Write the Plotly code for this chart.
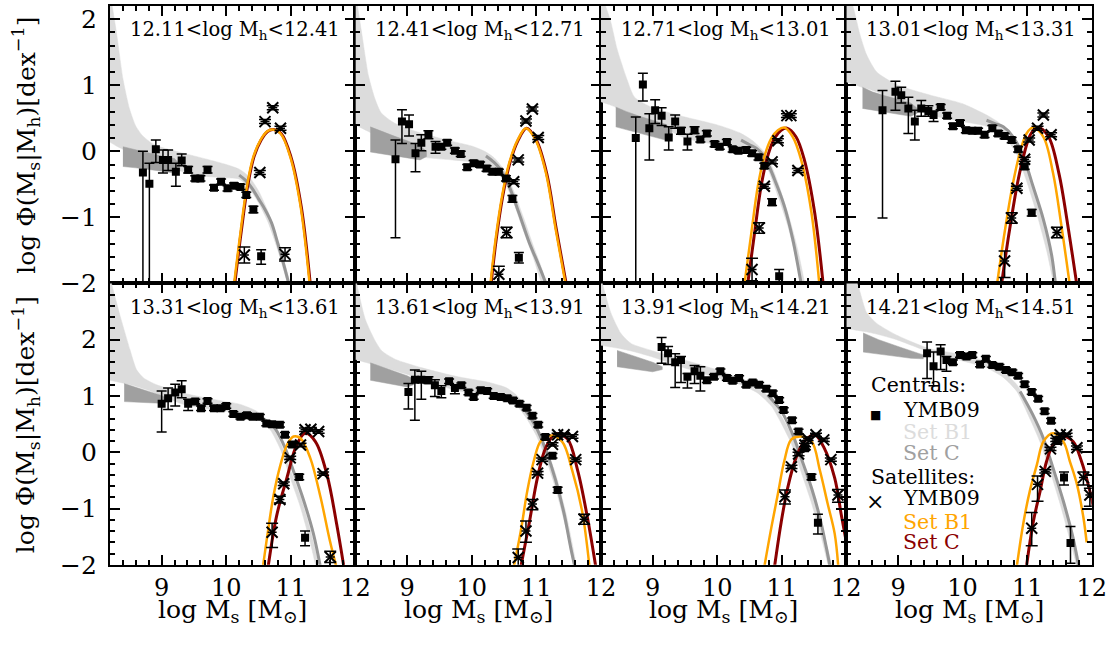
import plotly.graph_objects as go

# ---------------- data ----------------
titles = ["12.11&lt;log M<sub>h</sub>&lt;12.41", "12.41&lt;log M<sub>h</sub>&lt;12.71",
          "12.71&lt;log M<sub>h</sub>&lt;13.01", "13.01&lt;log M<sub>h</sub>&lt;13.31",
          "13.31&lt;log M<sub>h</sub>&lt;13.61", "13.61&lt;log M<sub>h</sub>&lt;13.91",
          "13.91&lt;log M<sub>h</sub>&lt;14.21", "14.21&lt;log M<sub>h</sub>&lt;14.51"]
x_ticks = [9, 10, 11, 12]
y_ticks = [-2, -1, 0, 1, 2]

# YMB09 centrals: (log Ms, log Phi, err_up, err_down)
cen1 = [(8.71,-0.32,0.32,2.0),(8.81,-0.49,0.31,2.0),(8.91,0.03,0.14,0.2),(9.02,-0.13,0.15,0.2),
        (9.10,-0.13,0.15,0.16),(9.22,-0.31,0.13,0.22),(9.31,-0.14,0.1,0.08),(9.41,-0.28,0.05,0.05),
        (9.52,-0.41,0.04,0.04),(9.60,-0.41,0.04,0.04),(9.71,-0.28,0.05,0.05),(9.81,-0.55,0.04,0.04),
        (9.92,-0.46,0.04,0.04),(10.02,-0.56,0.04,0.04),(10.12,-0.52,0.04,0.04),(10.22,-0.54,0.04,0.04),
        (10.31,-0.66,0.04,0.04),(10.42,-0.88,0.05,0.05),(10.54,-1.59,0.1,0.12)]
cen2 = [(8.82,-0.12,0.29,1.19),(8.92,0.45,0.18,0.33),(9.03,0.41,0.14,0.18),(9.13,-0.03,0.15,0.28),
        (9.22,0.13,0.12,0.12),(9.33,0.25,0.06,0.06),(9.44,0.07,0.08,0.1),(9.53,0.07,0.04,0.04),
        (9.62,0.13,0.04,0.04),(9.74,0.01,0.04,0.04),(9.83,-0.04,0.04,0.04),(9.93,-0.24,0.04,0.04),
        (10.03,-0.18,0.04,0.04),(10.13,-0.20,0.04,0.04),(10.23,-0.26,0.04,0.04),(10.32,-0.31,0.04,0.04),
        (10.42,-0.31,0.04,0.04),(10.53,-0.41,0.04,0.04),(10.63,-0.72,0.05,0.05),(10.73,-1.61,0.08,0.08)]
cen3 = [(8.74,0.20,0.32,2.3),(8.85,1.01,0.17,0.25),(8.95,0.35,0.22,0.48),(9.04,0.62,0.16,0.2),
        (9.14,0.54,0.12,0.15),(9.25,0.21,0.16,0.19),(9.35,0.45,0.1,0.1),(9.44,0.31,0.05,0.05),
        (9.54,0.15,0.11,0.13),(9.65,0.32,0.05,0.05),(9.74,0.18,0.04,0.04),(9.84,0.27,0.04,0.04),
        (9.96,0.11,0.04,0.04),(10.04,0.07,0.04,0.04),(10.15,0.14,0.04,0.04),(10.24,0.03,0.04,0.04),
        (10.33,0.01,0.04,0.04),(10.45,0.02,0.04,0.04),(10.54,-0.03,0.04,0.04),(10.64,-0.09,0.04,0.04),
        (10.73,-0.22,0.04,0.04),(10.85,-0.77,0.05,0.05),(10.96,-1.89,0.1,0.1)]
cen4 = [(8.76,0.62,0.3,1.63),(8.96,0.90,0.16,0.28),(9.05,0.85,0.12,0.12),(9.16,0.65,0.17,0.38),
        (9.26,0.45,0.17,0.28),(9.36,0.65,0.12,0.12),(9.47,0.61,0.08,0.08),(9.55,0.55,0.06,0.1),
        (9.66,0.67,0.04,0.04),(9.76,0.54,0.04,0.04),(9.85,0.38,0.04,0.04),(9.96,0.43,0.04,0.04),
        (10.05,0.32,0.04,0.04),(10.15,0.31,0.04,0.04),(10.24,0.31,0.04,0.04),(10.34,0.25,0.04,0.04),
        (10.46,0.35,0.04,0.04),(10.55,0.27,0.04,0.04),(10.65,0.23,0.04,0.04),(10.76,0.17,0.04,0.04),
        (10.86,0.03,0.04,0.04),(10.96,-0.23,0.04,0.04),(11.07,-0.93,0.05,0.05)]
cen5 = [(9.00,0.86,0.23,0.5),(9.10,0.96,0.18,0.2),(9.21,1.06,0.15,0.24),(9.31,1.12,0.15,0.15),
        (9.41,0.86,0.08,0.12),(9.52,0.90,0.04,0.04),(9.61,0.78,0.04,0.04),(9.71,0.91,0.04,0.04),
        (9.81,0.78,0.04,0.04),(9.91,0.78,0.04,0.04),(10.00,0.82,0.04,0.04),(10.11,0.68,0.04,0.04),
        (10.22,0.63,0.04,0.04),(10.32,0.66,0.04,0.04),(10.41,0.63,0.04,0.04),(10.52,0.63,0.04,0.04),
        (10.62,0.51,0.04,0.04),(10.71,0.50,0.04,0.04),(10.83,0.49,0.04,0.04),(10.91,0.31,0.04,0.04),
        (11.02,0.14,0.04,0.04),(11.13,-0.44,0.05,0.05),(11.22,-1.52,0.12,0.14)]
cen6 = [(9.02,1.07,0.15,0.3),(9.12,1.29,0.17,0.72),(9.22,1.29,0.15,0.35),(9.33,1.28,0.06,0.06),
        (9.43,1.19,0.1,0.2),(9.53,1.09,0.09,0.12),(9.65,1.26,0.04,0.04),(9.74,1.14,0.05,0.1),
        (9.84,1.19,0.04,0.04),(9.95,1.06,0.04,0.04),(10.03,0.98,0.04,0.04),(10.14,1.10,0.04,0.04),
        (10.24,1.09,0.04,0.04),(10.34,1.00,0.04,0.04),(10.45,0.98,0.04,0.04),(10.55,0.96,0.04,0.04),
        (10.64,0.92,0.04,0.04),(10.74,0.86,0.04,0.04),(10.85,0.79,0.04,0.04),(10.94,0.65,0.04,0.04),
        (11.03,0.49,0.04,0.04),(11.14,0.27,0.04,0.04),(11.25,-0.06,0.04,0.04),(11.33,-0.67,0.05,0.05)]
cen7 = [(9.14,1.87,0.17,0.29),(9.24,1.76,0.12,0.2),(9.35,1.60,0.15,0.45),(9.44,1.64,0.06,0.4),
        (9.54,1.34,0.06,0.2),(9.65,1.44,0.1,0.22),(9.74,1.36,0.16,0.27),(9.84,1.28,0.04,0.04),
        (9.95,1.34,0.04,0.04),(10.05,1.44,0.04,0.04),(10.15,1.32,0.04,0.04),(10.24,1.27,0.04,0.04),
        (10.34,1.32,0.04,0.04),(10.45,1.20,0.04,0.04),(10.55,1.24,0.04,0.04),(10.65,1.20,0.04,0.04),
        (10.76,1.13,0.04,0.04),(10.86,1.05,0.04,0.04),(10.96,0.93,0.04,0.04),(11.03,0.75,0.04,0.04),
        (11.16,0.57,0.04,0.04),(11.26,0.37,0.04,0.04),(11.36,0.07,0.04,0.04),(11.46,-0.44,0.05,0.05),
        (11.56,-1.25,0.15,0.2)]
cen8 = [(9.45,1.76,0.2,0.45),(9.55,1.53,0.25,0.35),(9.66,1.79,0.12,0.32),(9.75,1.64,0.06,0.2),
        (9.85,1.60,0.04,0.04),(9.96,1.73,0.04,0.04),(10.06,1.70,0.04,0.04),(10.15,1.73,0.04,0.04),
        (10.27,1.56,0.04,0.04),(10.36,1.66,0.04,0.04),(10.46,1.55,0.04,0.04),(10.57,1.52,0.04,0.04),
        (10.67,1.46,0.04,0.04),(10.77,1.42,0.04,0.04),(10.86,1.36,0.04,0.04),(10.96,1.21,0.04,0.04),
        (11.07,1.07,0.04,0.04),(11.17,0.95,0.04,0.04),(11.27,0.73,0.04,0.04),(11.37,0.56,0.04,0.04),
        (11.47,0.20,0.04,0.04),(11.57,-0.45,0.1,0.13),(11.67,-1.61,0.29,0.36)]

# YMB09 satellites: (log Ms, log Phi, err_up, err_down)
sat1 = [(10.28,-1.57,0.12,0.12),(10.52,-0.32,0.03,0.03),(10.60,0.45,0.03,0.03),(10.72,0.66,0.03,0.03),
        (10.84,0.35,0.03,0.03),(10.91,-1.56,0.1,0.1)]
sat2 = [(10.42,-1.86,0.12,0.12),(10.54,-1.23,0.08,0.08),(10.65,-0.46,0.03,0.03),(10.72,-0.13,0.03,0.03),
        (10.84,0.46,0.03,0.03),(10.94,0.64,0.03,0.03),(11.03,0.21,0.03,0.03)]
sat3 = [(10.54,-1.79,0.17,0.17),(10.65,-1.16,0.08,0.08),(10.73,-0.53,0.03,0.03),(10.85,-0.16,0.03,0.03),
        (10.94,0.16,0.03,0.03),(11.08,0.54,0.03,0.03),(11.14,0.54,0.03,0.03),(11.25,-0.29,0.03,0.03)]
sat4 = [(10.65,-1.66,0.15,0.25),(10.76,-1.01,0.08,0.08),(10.84,-0.56,0.03,0.03),(10.96,-0.12,0.03,0.03),
        (11.03,0.17,0.03,0.03),(11.16,0.35,0.03,0.03),(11.25,0.55,0.03,0.03),(11.37,0.25,0.03,0.03),
        (11.46,-1.23,0.08,0.08)]
sat5 = [(10.71,-1.42,0.16,0.27),(10.83,-0.84,0.06,0.06),(10.89,-0.56,0.03,0.03),(10.99,-0.10,0.03,0.03),
        (11.15,0.13,0.03,0.03),(11.22,0.40,0.03,0.03),(11.31,0.41,0.03,0.03),(11.43,0.37,0.03,0.03),
        (11.50,-0.38,0.03,0.03),(11.61,-1.86,0.1,0.1)]
sat6 = [(10.72,-1.87,0.15,0.15),(10.84,-1.40,0.18,0.2),(10.94,-0.92,0.08,0.1),(11.02,-0.37,0.03,0.03),
        (11.09,-0.13,0.03,0.03),(11.25,0.14,0.03,0.03),(11.33,0.31,0.03,0.03),(11.43,0.31,0.03,0.03),
        (11.56,0.28,0.03,0.03),(11.61,-0.13,0.03,0.03),(11.74,-1.19,0.09,0.09)]
sat7 = [(11.05,-0.79,0.12,0.13),(11.15,-0.26,0.03,0.03),(11.26,-0.03,0.03,0.03),(11.36,0.13,0.03,0.03),
        (11.40,0.24,0.03,0.03),(11.53,0.31,0.03,0.03),(11.65,0.22,0.03,0.03),(11.76,-0.13,0.03,0.03),
        (11.87,-0.76,0.1,0.13)]
sat8 = [(11.07,-1.35,0.28,0.31),(11.16,-0.57,0.15,0.3),(11.28,-0.34,0.03,0.03),(11.36,0.06,0.03,0.03),
        (11.45,0.22,0.03,0.03),(11.51,0.31,0.03,0.03),(11.61,0.31,0.03,0.03),(11.77,0.08,0.03,0.03),
        (11.87,-0.45,0.1,0.13),(11.97,-0.76,0.12,0.2)]

# Set B1 centrals band: x, upper, lower
b1_x1 = [8.2, 8.3, 8.4, 8.5, 8.6, 8.7, 8.85, 9.0, 9.3, 9.7, 10.0, 10.2, 10.35, 10.5, 10.65, 10.8, 10.95, 11.05]
b1_hi1 = [2.4, 1.8, 1.1, 0.65, 0.38, 0.24, 0.12, 0.06, -0.02, -0.12, -0.2, -0.27, -0.38, -0.6, -0.92, -1.35, -1.85, -2.3]
b1_lo1 = [0.14, 0.08, 0.03, -0.02, -0.06, -0.1, -0.15, -0.2, -0.3, -0.38, -0.4, -0.42, -0.55, -0.78, -1.08, -1.5, -2.0, -2.3]
b1_x2 = [8.2, 8.3, 8.4, 8.5, 8.6, 8.8, 9.2, 9.7, 10.0, 10.2, 10.35, 10.5, 10.65, 10.8, 10.95, 11.1, 11.2]
b1_hi2 = [2.4, 1.77, 1.15, 0.8, 0.58, 0.43, 0.28, 0.15, 0.08, 0.0, -0.1, -0.28, -0.6, -1.0, -1.42, -1.82, -2.2]
b1_lo2 = [0.4, 0.35, 0.3, 0.25, 0.2, 0.1, -0.08, -0.13, -0.16, -0.2, -0.28, -0.45, -0.78, -1.2, -1.6, -2.05, -2.3]
b1_x3 = [8.2, 8.35, 8.45, 8.6, 8.72, 9.0, 9.5, 10.0, 10.35, 10.55, 10.7, 10.8, 10.95, 11.1, 11.25, 11.37]
b1_hi3 = [2.4, 1.97, 1.55, 1.1, 0.82, 0.66, 0.52, 0.4, 0.28, 0.16, 0.02, -0.12, -0.5, -0.95, -1.5, -2.1]
b1_lo3 = [0.75, 0.7, 0.66, 0.6, 0.55, 0.45, 0.2, 0.1, 0.05, -0.02, -0.12, -0.3, -0.7, -1.15, -1.75, -2.3]
b1_x4 = [8.2, 8.3, 8.41, 8.51, 8.67, 9.0, 9.5, 10.0, 10.37, 10.58, 10.73, 10.84, 10.99, 11.15, 11.3, 11.48]
b1_hi4 = [2.4, 2.2, 1.77, 1.47, 1.2, 1.0, 0.85, 0.72, 0.55, 0.42, 0.22, 0.07, -0.28, -0.73, -1.23, -2.1]
b1_lo4 = [1.05, 1.02, 0.98, 0.95, 0.9, 0.75, 0.55, 0.45, 0.38, 0.28, 0.12, -0.05, -0.45, -0.95, -1.5, -2.3]
b1_x5 = [8.2, 8.36, 8.51, 8.61, 8.72, 8.92, 9.34, 9.85, 10.22, 10.47, 10.68, 10.84, 10.99, 11.15, 11.3, 11.45]
b1_hi5 = [3.1, 2.41, 1.82, 1.47, 1.32, 1.2, 1.05, 0.93, 0.85, 0.73, 0.52, 0.17, -0.3, -0.78, -1.37, -2.1]
b1_lo5 = [1.28, 1.24, 1.2, 1.17, 1.13, 1.05, 0.85, 0.75, 0.7, 0.6, 0.4, 0.05, -0.45, -0.98, -1.6, -2.3]
b1_x6 = [8.2, 8.35, 8.51, 8.61, 8.82, 9.23, 9.75, 10.27, 10.53, 10.68, 10.84, 11.0, 11.15, 11.3, 11.46, 11.63]
b1_hi6 = [3.1, 2.37, 1.97, 1.8, 1.65, 1.5, 1.35, 1.24, 1.15, 1.03, 0.82, 0.5, 0.09, -0.39, -1.09, -2.1]
b1_lo6 = [1.65, 1.6, 1.55, 1.52, 1.45, 1.3, 1.1, 1.02, 0.95, 0.85, 0.62, 0.3, -0.12, -0.65, -1.35, -2.3]
b1_x7 = [8.2, 8.35, 8.51, 8.67, 8.98, 9.49, 10.01, 10.37, 10.63, 10.84, 11.0, 11.15, 11.3, 11.46, 11.61, 11.79]
b1_hi7 = [3.1, 2.49, 2.11, 1.93, 1.81, 1.64, 1.46, 1.31, 1.16, 0.93, 0.63, 0.31, -0.16, -0.69, -1.28, -2.1]
b1_lo7 = [1.9, 1.87, 1.84, 1.8, 1.7, 1.5, 1.32, 1.2, 1.05, 0.82, 0.5, 0.15, -0.35, -0.9, -1.5, -2.3]
b1_x8 = [8.2, 8.35, 8.51, 8.67, 8.98, 9.49, 10.01, 10.37, 10.63, 10.84, 11.04, 11.2, 11.35, 11.51, 11.66, 11.84]
b1_hi8 = [3.2, 3.05, 2.49, 2.29, 2.08, 1.84, 1.73, 1.61, 1.43, 1.2, 0.78, 0.37, -0.1, -0.69, -1.28, -2.1]
b1_lo8 = [2.2, 2.17, 2.14, 2.1, 2.0, 1.78, 1.62, 1.5, 1.33, 1.08, 0.6, 0.18, -0.32, -0.92, -1.55, -2.3]

# Set C centrals band (low-mass part): x, upper, lower
c_x1 = [8.4, 8.6, 8.8, 9.0, 9.2, 9.28]
c_hi1 = [0.07, 0.02, -0.03, -0.07, -0.11, -0.2]
c_lo1 = [-0.23, -0.25, -0.27, -0.3, -0.33, -0.3]
c_x2 = [8.43, 8.6, 8.8, 9.0, 9.2, 9.3]
c_hi2 = [0.37, 0.3, 0.23, 0.16, 0.08, 0.0]
c_lo2 = [-0.01, -0.04, -0.07, -0.1, -0.13, -0.08]
c_x3 = [8.43, 8.6, 8.8, 9.0, 9.2, 9.3]
c_hi3 = [0.67, 0.6, 0.53, 0.47, 0.41, 0.33]
c_lo3 = [0.37, 0.32, 0.27, 0.22, 0.17, 0.22]
c_x4 = [8.45, 8.6, 8.8, 9.0, 9.2, 9.3]
c_hi4 = [0.97, 0.9, 0.84, 0.78, 0.73, 0.65]
c_lo4 = [0.65, 0.62, 0.59, 0.56, 0.53, 0.58]
c_x5 = [8.42, 8.6, 8.8, 9.0, 9.1]
c_hi5 = [1.22, 1.15, 1.08, 1.01, 0.95]
c_lo5 = [0.9, 0.89, 0.88, 0.87, 0.9]
c_x6 = [8.43, 8.6, 8.8, 9.0, 9.1]
c_hi6 = [1.59, 1.52, 1.44, 1.36, 1.3]
c_lo6 = [1.28, 1.24, 1.2, 1.16, 1.2]
c_x7 = [8.45, 8.6, 8.8, 9.0, 9.15]
c_hi7 = [1.81, 1.75, 1.67, 1.6, 1.52]
c_lo7 = [1.52, 1.49, 1.46, 1.43, 1.47]
c_x8 = [8.46, 8.7, 9.0, 9.2, 9.39]
c_hi8 = [2.12, 2.0, 1.88, 1.8, 1.73]
c_lo8 = [1.78, 1.74, 1.7, 1.67, 1.66]

# Set C centrals (high-mass drop line)
cl_x1 = [10.2, 10.3, 10.4, 10.5, 10.6, 10.7, 10.8, 10.9, 10.98]
cl_y1 = [-0.36, -0.44, -0.56, -0.72, -0.88, -1.08, -1.4, -1.75, -2.05]
cl_x2 = [10.22, 10.35, 10.45, 10.58, 10.73, 10.89, 11.04, 11.17]
cl_y2 = [-0.07, -0.17, -0.28, -0.53, -0.93, -1.38, -1.73, -2.05]
cl_x3 = [10.37, 10.5, 10.6, 10.73, 10.89, 11.04, 11.17, 11.27, 11.31]
cl_y3 = [0.17, 0.1, 0.05, -0.08, -0.43, -0.83, -1.33, -1.84, -2.05]
cl_x4 = [10.37, 10.5, 10.63, 10.78, 10.94, 11.09, 11.25, 11.38, 11.44]
cl_y4 = [0.47, 0.42, 0.37, 0.22, -0.08, -0.53, -1.03, -1.58, -2.05]
cl_x5 = [10.5, 10.73, 10.89, 11.04, 11.2, 11.35, 11.46]
cl_y5 = [0.64, 0.46, 0.13, -0.33, -0.86, -1.45, -2.05]
cl_x6 = [10.63, 10.84, 11.0, 11.15, 11.3, 11.43, 11.53, 11.6]
cl_y6 = [0.97, 0.73, 0.44, 0.03, -0.5, -1.09, -1.68, -2.05]
cl_x7 = [10.78, 11.0, 11.15, 11.3, 11.46, 11.59, 11.69, 11.75]
cl_y7 = [1.02, 0.72, 0.37, -0.1, -0.63, -1.16, -1.69, -2.05]
cl_x8 = [10.89, 11.09, 11.25, 11.4, 11.56, 11.71, 11.8]
cl_y8 = [1.08, 0.66, 0.25, -0.28, -0.87, -1.52, -2.05]

# Set B1 satellites (orange)
ob_x1 = [10.11, 10.22, 10.32, 10.42, 10.53, 10.63, 10.72, 10.84, 10.99, 11.15, 11.3]
ob_y1 = [-2.1, -1.23, -0.53, -0.08, 0.17, 0.3, 0.33, 0.27, -0.08, -0.83, -2.1]
ob_x2 = [10.28, 10.37, 10.47, 10.58, 10.71, 10.84, 10.99, 11.15, 11.3, 11.47]
ob_y2 = [-2.1, -1.33, -0.68, -0.18, 0.17, 0.35, 0.17, -0.33, -1.18, -2.1]
ob_x3 = [10.41, 10.53, 10.63, 10.73, 10.84, 10.94, 11.04, 11.17, 11.3, 11.46, 11.59]
ob_y3 = [-2.1, -1.23, -0.53, -0.08, 0.2, 0.32, 0.36, 0.22, -0.13, -0.93, -2.1]
ob_x4 = [10.52, 10.65, 10.78, 10.89, 10.99, 11.09, 11.25, 11.4, 11.53, 11.67]
ob_y4 = [-2.1, -1.23, -0.48, -0.01, 0.27, 0.36, 0.22, -0.33, -1.13, -2.1]
ob_x5 = [10.56, 10.65, 10.73, 10.84, 10.94, 11.04, 11.15, 11.3, 11.46, 11.61, 11.72]
ob_y5 = [-2.1, -1.37, -0.78, -0.22, 0.13, 0.28, 0.25, -0.1, -0.8, -1.6, -2.1]
ob_x6 = [10.64, 10.76, 10.86, 10.96, 11.07, 11.22, 11.4, 11.56, 11.71, 11.83]
ob_y6 = [-2.1, -1.4, -0.69, -0.16, 0.2, 0.3, 0.19, -0.34, -1.05, -2.1]
ob_x7 = [10.72, 10.84, 10.94, 11.04, 11.15, 11.3, 11.46, 11.59, 11.71, 11.82, 11.88]
ob_y7 = [-2.1, -1.33, -0.74, -0.15, 0.23, 0.28, 0.2, -0.32, -0.91, -1.45, -2.1]
ob_x8 = [10.83, 10.94, 11.04, 11.15, 11.25, 11.4, 11.56, 11.66, 11.77, 11.87, 11.92]
ob_y8 = [-2.1, -1.26, -0.69, -0.22, 0.19, 0.34, 0.19, -0.16, -0.57, -1.16, -1.6]

# Set C satellites (dark red)
oc_x1 = [10.12, 10.23, 10.33, 10.43, 10.54, 10.64, 10.73, 10.85, 11.0, 11.16, 11.31]
oc_y1 = [-2.1, -1.23, -0.53, -0.08, 0.17, 0.3, 0.33, 0.27, -0.08, -0.83, -2.1]
oc_x2 = [10.29, 10.38, 10.48, 10.59, 10.72, 10.85, 11.0, 11.16, 11.31, 11.48]
oc_y2 = [-2.1, -1.33, -0.68, -0.18, 0.17, 0.35, 0.17, -0.33, -1.18, -2.1]
oc_x3 = [10.46, 10.58, 10.68, 10.78, 10.89, 10.99, 11.08, 11.22, 11.35, 11.51, 11.65]
oc_y3 = [-2.1, -1.23, -0.53, -0.08, 0.2, 0.32, 0.35, 0.22, -0.13, -0.93, -2.1]
oc_x4 = [10.59, 10.72, 10.85, 10.96, 11.06, 11.17, 11.33, 11.49, 11.63, 11.78]
oc_y4 = [-2.1, -1.23, -0.48, -0.01, 0.27, 0.36, 0.22, -0.33, -1.13, -2.1]
oc_x5 = [10.64, 10.78, 10.94, 11.09, 11.22, 11.38, 11.56, 11.71, 11.83]
oc_y5 = [-2.1, -1.13, -0.45, 0.13, 0.34, 0.19, -0.4, -1.28, -2.1]
oc_x6 = [10.75, 10.89, 11.02, 11.15, 11.3, 11.48, 11.64, 11.79, 11.93]
oc_y6 = [-2.1, -1.26, -0.44, 0.09, 0.33, 0.24, -0.32, -1.15, -2.1]
oc_x7 = [10.88, 10.99, 11.09, 11.22, 11.35, 11.51, 11.66, 11.82, 11.92, 12.0]
oc_y7 = [-2.1, -1.25, -0.64, -0.1, 0.19, 0.31, 0.07, -0.46, -1.1, -1.6]
oc_x8 = [10.98, 11.09, 11.2, 11.3, 11.4, 11.56, 11.71, 11.84, 11.97, 12.02]
oc_y8 = [-2.1, -1.26, -0.69, -0.16, 0.13, 0.28, 0.19, -0.16, -0.69, -0.95]

legend_lines = ["Centrals:", "YMB09", "Set B1", "Set C", "Satellites:", "YMB09", "Set B1", "Set C"]

# ---------------- styling / layout ----------------
W, H = 1119, 651
# the captured picture comes out ~1.3% narrower / ~2.2% shorter than the page,
# so place things on a slightly smaller reference grid
REF_W, REF_H = 1104.2, 636.3
LEFT, PW = 110, 245.5
ROWS_PX = [(5, 283), (283, 565)]
YR = [[-2, 2.2], [-2, 3.0]]
FONT = "DejaVu Serif"
C_B1 = "rgb(220,220,220)"
C_C = "rgb(160,160,160)"
C_CL = "rgb(150,150,150)"
C_OR = "rgb(255,165,0)"
C_DR = "rgb(139,0,0)"


def px(xp):
    return xp / REF_W


def py(yp):
    return 1 - yp / REF_H


cens = [cen1, cen2, cen3, cen4, cen5, cen6, cen7, cen8]
sats = [sat1, sat2, sat3, sat4, sat5, sat6, sat7, sat8]
b1s = [(b1_x1, b1_hi1, b1_lo1), (b1_x2, b1_hi2, b1_lo2), (b1_x3, b1_hi3, b1_lo3), (b1_x4, b1_hi4, b1_lo4),
       (b1_x5, b1_hi5, b1_lo5), (b1_x6, b1_hi6, b1_lo6), (b1_x7, b1_hi7, b1_lo7), (b1_x8, b1_hi8, b1_lo8)]
cbs = [(c_x1, c_hi1, c_lo1), (c_x2, c_hi2, c_lo2), (c_x3, c_hi3, c_lo3), (c_x4, c_hi4, c_lo4),
       (c_x5, c_hi5, c_lo5), (c_x6, c_hi6, c_lo6), (c_x7, c_hi7, c_lo7), (c_x8, c_hi8, c_lo8)]
cls = [(cl_x1, cl_y1), (cl_x2, cl_y2), (cl_x3, cl_y3), (cl_x4, cl_y4),
       (cl_x5, cl_y5), (cl_x6, cl_y6), (cl_x7, cl_y7), (cl_x8, cl_y8)]
obs = [(ob_x1, ob_y1), (ob_x2, ob_y2), (ob_x3, ob_y3), (ob_x4, ob_y4),
       (ob_x5, ob_y5), (ob_x6, ob_y6), (ob_x7, ob_y7), (ob_x8, ob_y8)]
ocs = [(oc_x1, oc_y1), (oc_x2, oc_y2), (oc_x3, oc_y3), (oc_x4, oc_y4),
       (oc_x5, oc_y5), (oc_x6, oc_y6), (oc_x7, oc_y7), (oc_x8, oc_y8)]

fig = go.Figure()
layout = {}
annotations = []

for i in range(8):
    row, col = divmod(i, 4)
    xa = "x" if i == 0 else f"x{i+1}"
    ya = "y" if i == 0 else f"y{i+1}"
    xkey = "xaxis" if i == 0 else f"xaxis{i+1}"
    ykey = "yaxis" if i == 0 else f"yaxis{i+1}"
    top_px, bot_px = ROWS_PX[row]
    layout[xkey] = dict(
        domain=[px(LEFT + PW * col), px(LEFT + PW * (col + 1))],
        range=[8.2, 12.0], anchor=ya, tickvals=x_ticks, ticktext=[str(t) for t in x_ticks],
        showticklabels=(row == 1), ticks="inside", ticklen=10, tickwidth=1.5, tickcolor="black",
        minor=dict(dtick=0.2, ticks="inside", ticklen=5, tickwidth=1.5, tickcolor="black"),
        mirror="allticks", showline=True, linewidth=2, linecolor="black",
        showgrid=False, zeroline=False, ticklabelstandoff=0,
        tickfont=dict(family=FONT, size=24, color="black"))
    layout[ykey] = dict(
        domain=[py(bot_px), py(top_px)],
        range=YR[row], anchor=xa, tickvals=y_ticks, ticktext=[str(t).replace("-", "\u2212") for t in y_ticks],
        showticklabels=(col == 0), ticks="inside", ticklen=10, tickwidth=1.5, tickcolor="black",
        minor=dict(dtick=0.2, ticks="inside", ticklen=5, tickwidth=1.5, tickcolor="black"),
        mirror="allticks", showline=True, linewidth=2, linecolor="black",
        showgrid=False, zeroline=False, ticklabelstandoff=6,
        tickfont=dict(family=FONT, size=25, color="black"))

    bx, bhi, blo = b1s[i]
    fig.add_trace(go.Scatter(x=bx + bx[::-1], y=bhi + blo[::-1], fill="toself", fillcolor=C_B1,
                             mode="lines", line=dict(color=C_B1, width=0.5, shape="spline", smoothing=0.6),
                             xaxis=xa, yaxis=ya, hoverinfo="skip", showlegend=False))
    cx, chi, clo = cbs[i]
    fig.add_trace(go.Scatter(x=cx + cx[::-1], y=chi + clo[::-1], fill="toself", fillcolor=C_C,
                             mode="lines", line=dict(color=C_C, width=0.5),
                             xaxis=xa, yaxis=ya, hoverinfo="skip", showlegend=False))
    lx, ly = cls[i]
    fig.add_trace(go.Scatter(x=lx, y=ly, mode="lines", line=dict(color=C_CL, width=3, shape="spline"),
                             xaxis=xa, yaxis=ya, hoverinfo="skip", showlegend=False))
    rx, ry = ocs[i]
    fig.add_trace(go.Scatter(x=rx, y=ry, mode="lines", line=dict(color=C_DR, width=3, shape="spline"),
                             xaxis=xa, yaxis=ya, hoverinfo="skip", showlegend=False))
    ox, oy = obs[i]
    fig.add_trace(go.Scatter(x=ox, y=oy, mode="lines", line=dict(color=C_OR, width=2.5, shape="spline"),
                             xaxis=xa, yaxis=ya, hoverinfo="skip", showlegend=False))
    c = cens[i]
    fig.add_trace(go.Scatter(x=[p[0] for p in c], y=[p[1] for p in c], mode="markers",
                             marker=dict(symbol="square", size=8, color="black"),
                             error_y=dict(type="data", symmetric=False, array=[p[2] for p in c],
                                          arrayminus=[p[3] for p in c], color="black", thickness=1.5, width=5),
                             xaxis=xa, yaxis=ya, showlegend=False))
    s = sats[i]
    fig.add_trace(go.Scatter(x=[p[0] for p in s], y=[p[1] for p in s], mode="markers",
                             marker=dict(symbol="x-thin", size=11, color="black",
                                         line=dict(width=2, color="black")),
                             error_y=dict(type="data", symmetric=False, array=[p[2] for p in s],
                                          arrayminus=[p[3] for p in s], color="black", thickness=1.5, width=6),
                             error_x=dict(type="constant", value=0.07, color="black", thickness=1.5, width=0),
                             xaxis=xa, yaxis=ya, showlegend=False))

    # panel title
    annotations.append(dict(text=titles[i], xref="paper", yref="paper",
                            x=px(LEFT + PW * col + PW / 2 + 2), y=py(top_px + 25),
                            showarrow=False, xanchor="center", yanchor="middle",
                            font=dict(family=FONT, size=19.5, color="black")))
    if row == 1:
        annotations.append(dict(text="log M<sub>s</sub> [M<sub>\u2299</sub>]", xref="paper", yref="paper",
                                x=px(LEFT + PW * col + PW / 2), y=py(611),
                                showarrow=False, xanchor="center", yanchor="middle",
                                font=dict(family=FONT, size=25, color="black")))

for r in range(2):
    top_px, bot_px = ROWS_PX[r]
    annotations.append(dict(text="log \u03a6(M<sub>s</sub>|M<sub>h</sub>)[dex<sup>\u22121</sup>]",
                            xref="paper", yref="paper", x=px(26), y=py((top_px + bot_px) / 2),
                            textangle=-90, showarrow=False, xanchor="center", yanchor="middle",
                            font=dict(family=FONT, size=25, color="black")))

# legend (text) in last panel
leg_y = [1.195, 0.752, 0.363, -0.009, -0.434, -0.805, -1.23, -1.60]
leg_x = [8.557, 9.053, 9.053, 9.053, 8.557, 9.053, 9.053, 9.053]
leg_c = ["black", "black", C_B1, C_C, "black", "black", C_OR, C_DR]
for t, lxx, lyy, cc in zip(legend_lines, leg_x, leg_y, leg_c):
    annotations.append(dict(text=t, xref="x8", yref="y8", x=lxx, y=lyy, showarrow=False,
                            xanchor="left", yanchor="middle", font=dict(family=FONT, size=20.5, color=cc)))
annotations.append(dict(text="\u25a0", xref="x8", yref="y8", x=8.65, y=0.66, showarrow=False,
                        xanchor="center", yanchor="middle", font=dict(family=FONT, size=12, color="black")))
annotations.append(dict(text="\u00d7", xref="x8", yref="y8", x=8.65, y=-0.88, showarrow=False,
                        xanchor="center", yanchor="middle", font=dict(family=FONT, size=22, color="black")))

fig.update_layout(width=W, height=H, margin=dict(l=0, r=0, t=0, b=0),
                  paper_bgcolor="white", plot_bgcolor="white",
                  annotations=annotations, **layout)
fig.write_html("out.html")
